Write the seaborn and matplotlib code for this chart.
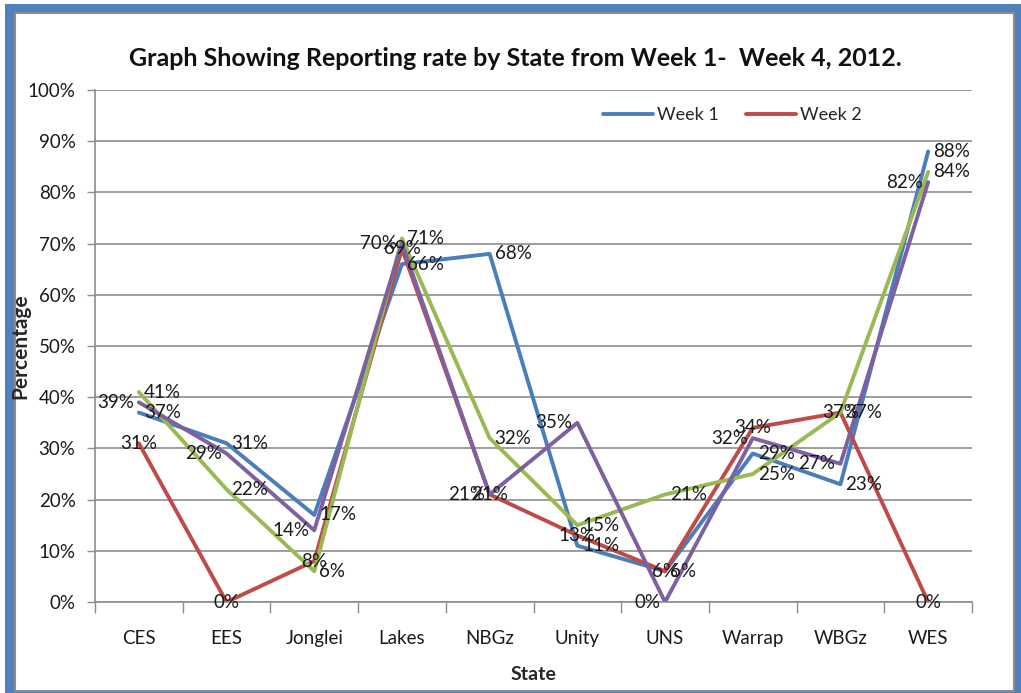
import matplotlib
matplotlib.use("Agg")
import matplotlib.pyplot as plt
from matplotlib.patches import Rectangle
from matplotlib.lines import Line2D
import seaborn as sns
import pandas as pd

states = ["CES", "EES", "Jonglei", "Lakes", "NBGz", "Unity", "UNS", "Warrap", "WBGz", "WES"]
week1 = [37, 31, 17, 66, 68, 11, 6, 29, 23, 88]
week2 = [31, 0, 8, 69, 21, 13, 6, 34, 37, 0]
week3 = [41, 22, 6, 71, 32, 15, 21, 25, 37, 84]
week4 = [39, 29, 14, 70, 21, 35, 0, 32, 27, 82]
series_names = ["Week 1", "Week 2", "Week 3", "Week 4"]
yticks = [0, 10, 20, 30, 40, 50, 60, 70, 80, 90, 100]

colors = ["#4a7ebb", "#be4b48", "#98b954", "#7d60a0"]

sns.set_theme(style="white")
FONT = ["Lato", "DejaVu Sans"]
plt.rcParams["font.family"] = FONT

W, H = 1021, 693
fig = plt.figure(figsize=(W / 100, H / 100), dpi=100)

def px(x0, y0, x1, y1):
    return (x0 / W, 1 - y1 / H), (x1 - x0) / W, (y1 - y0) / H

xy, w, h = px(5, 4, 1021, 693)
fig.add_artist(Rectangle(xy, w, h, transform=fig.transFigure, facecolor="#4f81bd", edgecolor="none", zorder=-3))
xy, w, h = px(15, 13, 1014, 691)
fig.add_artist(Rectangle(xy, w, h, transform=fig.transFigure, facecolor="white", edgecolor="#8c8c8c", linewidth=1.5, zorder=-2))

ax = fig.add_axes([95 / W, 1 - 602 / H, (972 - 95) / W, (602 - 90) / H])
ax.set_facecolor("none")
ax.set_zorder(1)

all_series = [week1, week2, week3, week4]
df = pd.DataFrame({
    "State": states * 4,
    "Value": [v for s in all_series for v in s],
    "Week": [n for n in series_names for _ in states],
})
df["pos"] = [i for _ in series_names for i in range(len(states))]

sns.lineplot(data=df, x="pos", y="Value", hue="Week", palette=colors, sort=False,
             linewidth=2.8, ax=ax, legend=False, estimator=None)

# data labels
offsets = {"Week 1": (5, 0, "left"), "Week 2": (0, 0, "center"),
           "Week 3": (5, 0, "left"), "Week 4": (-5, 0, "right")}
for name, vals in zip(series_names, all_series):
    dx, dy, ha = offsets[name]
    for i, v in enumerate(vals):
        ax.annotate(f"{v}%", (i, v), xytext=(dx, dy), textcoords="offset pixels",
                    ha=ha, va="center", fontsize=13.5, color="#1a1a1a", annotation_clip=False)

ax.set_xlim(-0.5, len(states) - 0.5)
ax.set_ylim(0, 100)
ax.set_yticks(yticks)
ax.set_yticklabels([f"{t}%" for t in yticks], fontsize=13.5)
ax.set_xticks(range(len(states)))
ax.set_xticklabels(states, fontsize=13.5)
ax.set_xticks([i - 0.5 for i in range(len(states) + 1)], minor=True)
ax.tick_params(axis="x", which="major", length=0, pad=20, labelcolor="#1a1a1a")
ax.tick_params(axis="x", which="minor", length=8, width=1, color="#8c8c8c", direction="out", bottom=True)
ax.tick_params(axis="y", which="major", length=6, width=1, color="#8c8c8c", direction="out", pad=8,
               labelcolor="#1a1a1a", left=True)
ax.yaxis.grid(True, color="#8c8c8c", linewidth=1.2)
ax.set_axisbelow(True)
for s in ["top", "right"]:
    ax.spines[s].set_visible(False)
for s in ["left", "bottom"]:
    ax.spines[s].set_color("#8c8c8c")
    ax.spines[s].set_linewidth(1.2)

ax.set_xlabel("State", fontsize=14, fontweight="bold", labelpad=14)
ax.set_ylabel("Percentage", fontsize=15, fontweight="bold")
ax.yaxis.set_label_coords((30 - 95) / 877, 0.5)

fig.text(515 / W, 1 - 58 / H, "Graph Showing Reporting rate by State from Week 1-  Week 4, 2012.",
         ha="center", va="center", fontsize=18, fontweight="bold", color="#111111")

handles = [Line2D([], [], color=colors[0], linewidth=2.8), Line2D([], [], color=colors[1], linewidth=2.8)]
fig.legend(handles, series_names[:2], loc="center", bbox_to_anchor=(732 / W, 1 - 115 / H),
           ncol=2, frameon=False, fontsize=13, handlelength=2.8, handletextpad=0.2,
           columnspacing=1.5)

fig.savefig("out.png", dpi=100)
